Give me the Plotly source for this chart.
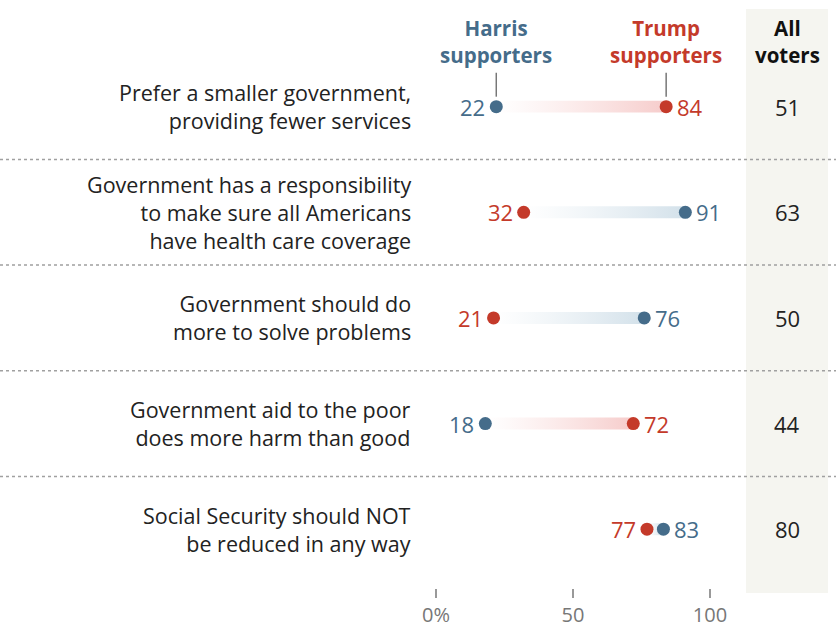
import plotly.graph_objects as go

questions = [
    "Prefer a smaller government,<br>providing fewer services",
    "Government has a responsibility<br>to make sure all Americans<br>have health care coverage",
    "Government should do<br>more to solve problems",
    "Government aid to the poor<br>does more harm than good",
    "Social Security should NOT<br>be reduced in any way",
]
harris = [22, 91, 76, 18, 83]
trump = [84, 32, 21, 72, 77]
all_voters = [51, 63, 50, 44, 80]
tick_vals = [0, 50, 100]
tick_text = ["0%", "50", "100"]

BLUE = "#456c8a"
RED = "#c43a2a"
BLUE_LIGHT = "#d3e1ea"
RED_LIGHT = "#f6cccb"
FONT = "Open Sans"

W, H = 836, 628
PLOT_H = 590
ROW_PX0, ROW_STEP = 107, 106


def py(pix):
    """pixel y (from top) -> paper y"""
    return 1 - pix / PLOT_H


fig = go.Figure()
half = 6 / ROW_STEP

for i in range(len(questions)):
    h, t = harris[i], trump[i]
    lo, hi = min(h, t), max(h, t)
    end_col = BLUE_LIGHT if h > t else RED_LIGHT
    fig.add_trace(go.Scatter(
        x=[lo, hi, hi, lo, lo],
        y=[i - half, i - half, i + half, i + half, i - half],
        mode="lines", fill="toself", line=dict(width=0),
        fillgradient=dict(type="horizontal",
                          colorscale=[[0, "rgba(255,255,255,0.7)"], [1, end_col]]),
        hoverinfo="skip", showlegend=False,
    ))

ys = list(range(len(questions)))
fig.add_trace(go.Scatter(x=harris, y=ys, mode="markers",
                         marker=dict(color=BLUE, size=13), showlegend=False))
fig.add_trace(go.Scatter(x=trump, y=ys, mode="markers",
                         marker=dict(color=RED, size=13), showlegend=False))

ann = []
for i in range(len(questions)):
    h, t = harris[i], trump[i]
    left_is_h = h < t
    lv, rv = (h, t) if left_is_h else (t, h)
    lc, rc = (BLUE, RED) if left_is_h else (RED, BLUE)
    ann.append(dict(x=lv, y=i, xref="x", yref="y", text=str(lv), showarrow=False,
                    xanchor="right", yanchor="middle", xshift=-9,
                    font=dict(family=FONT, size=22, color=lc)))
    ann.append(dict(x=rv, y=i, xref="x", yref="y", text=str(rv), showarrow=False,
                    xanchor="left", yanchor="middle", xshift=9,
                    font=dict(family=FONT, size=22, color=rc)))
    ann.append(dict(x=787 / W, y=i, xref="paper", yref="y", text=str(all_voters[i]),
                    showarrow=False, xanchor="center", yanchor="middle",
                    font=dict(family=FONT, size=22, color="#222222")))
    ann.append(dict(x=413 / W, y=i, xref="paper", yref="y", text=questions[i],
                    showarrow=False, xanchor="right", yanchor="middle", align="right",
                    font=dict(family=FONT, size=21.5, color="#222222")))

ann.append(dict(x=harris[0], y=py(42), xref="x", yref="paper",
                text="<b>Harris<br>supporters</b>", showarrow=False,
                xanchor="center", yanchor="middle",
                font=dict(family=FONT, size=20.5, color=BLUE)))
ann.append(dict(x=trump[0], y=py(42), xref="x", yref="paper",
                text="<b>Trump<br>supporters</b>", showarrow=False,
                xanchor="center", yanchor="middle",
                font=dict(family=FONT, size=20.5, color=RED)))
ann.append(dict(x=787 / W, y=py(42), xref="paper", yref="paper",
                text="<b>All<br>voters</b>", showarrow=False,
                xanchor="center", yanchor="middle",
                font=dict(family=FONT, size=20.5, color="#111111")))

shapes = [
    dict(type="rect", xref="paper", yref="paper", x0=746 / W, x1=828 / W,
         y0=py(595), y1=py(9), fillcolor="#f5f5f0", line=dict(width=0), layer="below"),
    dict(type="line", xref="x", yref="paper", x0=harris[0], x1=harris[0],
         y0=py(73), y1=py(97), line=dict(color="#777777", width=1.5)),
    dict(type="line", xref="x", yref="paper", x0=trump[0], x1=trump[0],
         y0=py(73), y1=py(97), line=dict(color="#777777", width=1.5)),
]
for i in range(len(questions) - 1):
    shapes.append(dict(type="line", xref="paper", yref="y", x0=0, x1=1,
                       y0=i + 0.5, y1=i + 0.5,
                       line=dict(color="#a0a0a0", width=1.5, dash="dot")))

x0_px, px_per = 436, 2.74
xr = [-x0_px / px_per, (W - x0_px) / px_per]
yr = [(PLOT_H - ROW_PX0) / ROW_STEP, -ROW_PX0 / ROW_STEP]

fig.update_layout(
    width=W, height=H,
    margin=dict(l=0, r=0, t=0, b=H - PLOT_H),
    paper_bgcolor="white", plot_bgcolor="rgba(0,0,0,0)",
    annotations=ann, shapes=shapes,
    xaxis=dict(range=xr, tickvals=tick_vals, ticktext=tick_text,
               ticks="outside", ticklen=9, tickcolor="#999999", tickwidth=1.5,
               tickfont=dict(family=FONT, size=20, color="#777777"),
               showgrid=False, zeroline=False, showline=False, fixedrange=True),
    yaxis=dict(range=yr, showticklabels=False, showgrid=False, zeroline=False,
               showline=False, fixedrange=True),
    font=dict(family=FONT),
)

fig.write_html("out.html", config={"displayModeBar": False},
               post_script="document.body.style.margin='0';document.body.style.overflow='hidden';")
